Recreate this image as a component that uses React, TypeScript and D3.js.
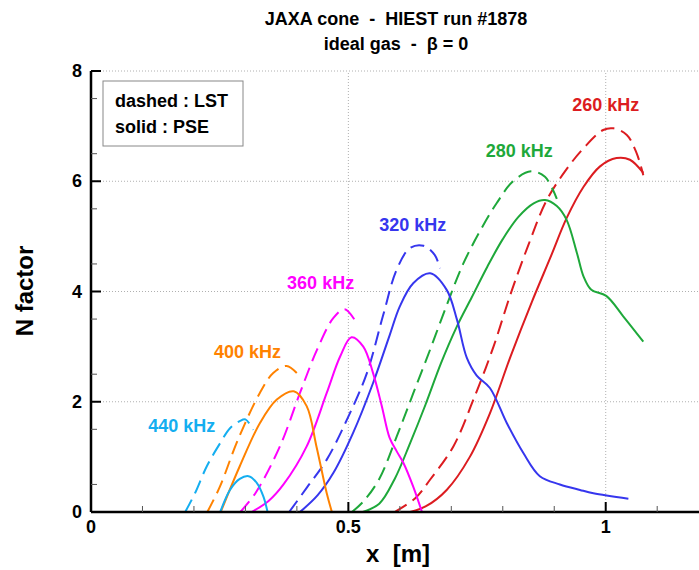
import React from 'react'
import * as d3 from 'd3'

// N factor curves, [x (m), N]
const lst440 = [[0.183, 0], [0.202, 0.34], [0.225, 0.83], [0.251, 1.25], [0.27, 1.52], [0.289, 1.65], [0.3, 1.68], [0.315, 1.49]]
const pse440 = [[0.251, 0], [0.27, 0.4], [0.289, 0.6], [0.306, 0.65], [0.322, 0.53], [0.335, 0.28], [0.343, 0]]
const lst400 = [[0.226, 0], [0.25, 0.45], [0.285, 1.3], [0.328, 2.16], [0.354, 2.52], [0.38, 2.65], [0.4, 2.52]]
const pse400 = [[0.252, 0], [0.289, 0.83], [0.328, 1.61], [0.361, 2.04], [0.394, 2.19], [0.419, 1.92], [0.438, 1.19], [0.458, 0.34], [0.468, 0]]
const lst360 = [[0.29, 0], [0.32, 0.35], [0.367, 1.19], [0.406, 2.16], [0.439, 2.94], [0.471, 3.52], [0.493, 3.68], [0.516, 3.43]]
const pse360 = [[0.312, 0], [0.345, 0.2], [0.374, 0.5], [0.419, 1.19], [0.458, 2.16], [0.484, 2.82], [0.506, 3.17], [0.529, 3.0], [0.548, 2.52], [0.565, 1.92], [0.58, 1.35], [0.594, 1.1], [0.607, 0.89], [0.626, 0.46], [0.643, 0]]
const lst320 = [[0.385, 0], [0.42, 0.45], [0.458, 0.95], [0.497, 1.67], [0.536, 2.52], [0.567, 3.55], [0.594, 4.4], [0.62, 4.79], [0.646, 4.83], [0.668, 4.66], [0.678, 4.42]]
const pse320 = [[0.406, 0], [0.44, 0.3], [0.471, 0.71], [0.509, 1.43], [0.548, 2.34], [0.58, 3.2], [0.6, 3.73], [0.626, 4.15], [0.659, 4.33], [0.691, 4.03], [0.711, 3.49], [0.73, 2.8], [0.749, 2.48], [0.775, 2.25], [0.808, 1.61], [0.84, 1.07], [0.872, 0.65], [0.911, 0.5], [0.95, 0.4], [0.976, 0.34], [1.044, 0.24]]
const lst280 = [[0.507, 0], [0.53, 0.2], [0.56, 0.6], [0.594, 1.37], [0.626, 2.15], [0.659, 2.95], [0.691, 3.75], [0.723, 4.5], [0.756, 5.1], [0.788, 5.6], [0.82, 6.0], [0.855, 6.18], [0.882, 6.08], [0.905, 5.68]]
const pse280 = [[0.528, 0], [0.56, 0.15], [0.59, 0.6], [0.62, 1.25], [0.65, 1.95], [0.68, 2.7], [0.71, 3.35], [0.74, 3.9], [0.77, 4.45], [0.8, 4.95], [0.83, 5.35], [0.86, 5.6], [0.882, 5.66], [0.905, 5.55], [0.924, 5.3], [0.944, 4.7], [0.957, 4.27], [0.972, 4.03], [1.001, 3.92], [1.034, 3.55], [1.073, 3.09]]
const lst260 = [[0.59, 0], [0.63, 0.25], [0.659, 0.59], [0.704, 1.19], [0.743, 2.04], [0.782, 3.0], [0.815, 3.95], [0.85, 4.85], [0.885, 5.65], [0.924, 6.22], [0.957, 6.6], [0.995, 6.93], [1.015, 6.96], [1.041, 6.84], [1.06, 6.51], [1.073, 6.11]]
const pse260 = [[0.62, 0], [0.65, 0.1], [0.691, 0.4], [0.736, 1.0], [0.775, 1.79], [0.815, 2.82], [0.856, 3.8], [0.894, 4.65], [0.924, 5.33], [0.957, 5.9], [0.989, 6.27], [1.021, 6.42], [1.047, 6.39], [1.073, 6.15]]

const freqs = ['260 kHz', '280 kHz', '320 kHz', '360 kHz', '400 kHz', '440 kHz']
// label anchor (left, baseline) in data coords
const labelX = [0.935, 0.767, 0.56, 0.381, 0.239, 0.111]
const labelY = [7.27, 6.44, 5.1, 4.05, 2.8, 1.46]

const xTicks = [0, 0.5, 1]
const yTicks = [0, 2, 4, 6, 8]

const colors = ['#dc1c20', '#1ea83a', '#3636ee', '#ff00ff', '#ff8200', '#14aef0']
const dashedSets = [lst260, lst280, lst320, lst360, lst400, lst440]
const solidSets = [pse260, pse280, pse320, pse360, pse400, pse440]

const W = 699
const H = 570
const font = '"Liberation Sans", Arial, Helvetica, sans-serif'

export default function App() {
  const x = d3.scaleLinear().domain([0, 1.182]).range([91, 699.4])
  const y = d3.scaleLinear().domain([0, 8]).range([512, 71])
  const line = d3
    .line<number[]>()
    .x((d) => x(d[0]))
    .y((d) => y(d[1]))
    .curve(d3.curveCatmullRom.alpha(0.5))

  const xMinor = d3.range(0, 1.2, 0.1).filter((v) => Math.abs(v * 2 - Math.round(v * 2)) > 1e-6)
  const yMinor = d3.range(0.5, 8, 1)
  const [x0, x1] = x.range()
  const [y0, y1] = y.range()

  return (
    <svg width={W} height={H} style={{ position: 'absolute', left: 0, top: 0, background: '#fff' }} fontFamily={font}>
      {/* title */}
      <text x={396} y={25} textAnchor="middle" fontSize={18} fontWeight="bold" style={{ whiteSpace: 'pre' }}>
        {'JAXA cone  -  HIEST run #1878'}
      </text>
      <text x={396} y={50} textAnchor="middle" fontSize={18} fontWeight="bold" style={{ whiteSpace: 'pre' }}>
        {'ideal gas  -  β = 0'}
      </text>

      {/* grid */}
      {yTicks.slice(1).map((t) => (
        <line key={'gy' + t} x1={x0} x2={x1} y1={y(t)} y2={y(t)} stroke="#b0b0b0" strokeWidth={1} strokeDasharray="1,2" />
      ))}
      {xTicks.slice(1).map((t) => (
        <line key={'gx' + t} x1={x(t)} x2={x(t)} y1={y0} y2={y1} stroke="#b0b0b0" strokeWidth={1} strokeDasharray="1,2" />
      ))}

      {/* curves */}
      {dashedSets.map((d, i) => (
        <path key={'l' + i} d={line(d) || ''} fill="none" stroke={colors[i]} strokeWidth={2} strokeDasharray="14,7" />
      ))}
      {solidSets.map((d, i) => (
        <path key={'p' + i} d={line(d) || ''} fill="none" stroke={colors[i]} strokeWidth={2} />
      ))}

      {/* curve labels */}
      {freqs.map((f, i) => (
        <text key={f} x={x(labelX[i])} y={y(labelY[i])} fontSize={18} fontWeight="bold" fill={colors[i]}>
          {f}
        </text>
      ))}

      {/* axes */}
      <line x1={x0} x2={x1} y1={y0} y2={y0} stroke="#000" strokeWidth={2.5} />
      <line x1={x0} x2={x0} y1={y0} y2={y1} stroke="#000" strokeWidth={2.5} />
      {xTicks.map((t) => (
        <line key={'xt' + t} x1={x(t)} x2={x(t)} y1={y0} y2={y0 - 10} stroke="#000" strokeWidth={2} />
      ))}
      {xMinor.map((t) => (
        <line key={'xm' + t} x1={x(t)} x2={x(t)} y1={y0} y2={y0 - 6} stroke="#555" strokeWidth={1} />
      ))}
      {yTicks.map((t) => (
        <line key={'yt' + t} x1={x0} x2={x0 + 10} y1={y(t)} y2={y(t)} stroke="#000" strokeWidth={2} />
      ))}
      {yMinor.map((t) => (
        <line key={'ym' + t} x1={x0} x2={x0 + 6} y1={y(t)} y2={y(t)} stroke="#555" strokeWidth={1} />
      ))}
      {xTicks.map((t) => (
        <text key={'xl' + t} x={x(t)} y={533} textAnchor="middle" fontSize={18} fontWeight="bold">
          {d3.format('~g')(t)}
        </text>
      ))}
      {yTicks.map((t) => (
        <text key={'yl' + t} x={82} y={y(t) + 6} textAnchor="end" fontSize={18} fontWeight="bold">
          {t}
        </text>
      ))}

      {/* axis titles */}
      <text x={398} y={562} textAnchor="middle" fontSize={24} fontWeight="bold" style={{ whiteSpace: 'pre' }}>
        {'x  [m]'}
      </text>
      <text transform="translate(33,291) rotate(-90)" textAnchor="middle" fontSize={24} fontWeight="bold">
        N factor
      </text>

      {/* legend */}
      <rect x={103} y={81} width={140} height={65} fill="#fff" stroke="#888" strokeWidth={1} />
      <text x={115} y={107} fontSize={18} fontWeight="bold">dashed : LST</text>
      <text x={115} y={133} fontSize={18} fontWeight="bold">solid : PSE</text>
    </svg>
  )
}
